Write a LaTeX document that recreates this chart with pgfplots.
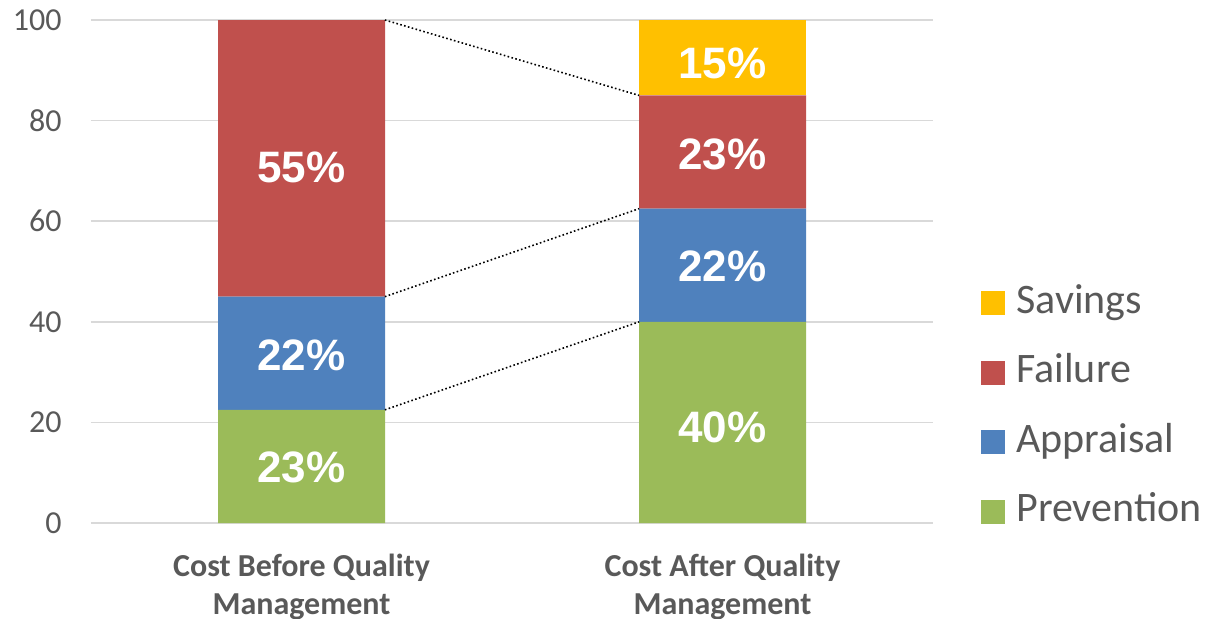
\documentclass[border=0pt]{standalone}
\usepackage{pgfplots}
\pgfplotsset{compat=1.18}
\usepackage{fontspec}
\setmainfont{Carlito}
\newfontfamily\arialfont{Liberation Sans}
\usetikzlibrary{calc}
\definecolor{cPrev}{HTML}{9BBB59}
\definecolor{cApp}{HTML}{4F81BD}
\definecolor{cFail}{HTML}{C0504D}
\definecolor{cSav}{HTML}{FFC000}
\definecolor{gridc}{HTML}{D9D9D9}
\definecolor{txt}{HTML}{595959}
\begin{document}
\begin{tikzpicture}
\pgfplotsset{common/.style={scale only axis, width=421pt, height=251.5pt,
  xmin=-0.5, xmax=1.5, ymin=0, ymax=100, clip=false}}
\begin{axis}[common, ybar stacked, bar width=83.5pt,
  ytick={0,20,...,100}, ymajorgrids,
  grid style={color=gridc, line width=0.75pt},
  xtick={0,1},
  xticklabels={{Cost Before Quality\\Management},{Cost After Quality\\Management}},
  xticklabel style={align=center, font=\bfseries\fontsize{16}{19}\selectfont, text=txt, inner sep=0pt, yshift=-15.5pt},
  yticklabel style={font=\fontsize{16}{19}\selectfont, text=txt, inner sep=0pt, xshift=-14.5pt},
  /pgf/number format/assume math mode=true,
  axis line style={draw=none}, tick style={draw=none},
  reverse legend,
  legend style={draw=none, fill=none, at={(1.057,0.2297)}, anchor=west, inner sep=0pt,
    font=\fontsize{21}{25}\selectfont, text=txt, cells={anchor=west}, row sep=14.8pt,
    nodes={inner sep=0pt, text height=15pt, text depth=5pt}},
  legend image code/.code={\fill[#1] (0pt,-6pt) rectangle (12pt,6pt); \path (17.5pt,0pt);},
]
\addplot[fill=cPrev, draw=none] coordinates {(0,22.5) (1,40)};
\addlegendentry{Prevention}
\addplot[fill=cApp, draw=none] coordinates {(0,22.5) (1,22.5)};
\addlegendentry{Appraisal}
\addplot[fill=cFail, draw=none] coordinates {(0,55) (1,22.5)};
\addlegendentry{Failure}
\addplot[fill=cSav, draw=none] coordinates {(0,0) (1,15)};
\addlegendentry{Savings}
\coordinate (bl) at (rel axis cs:0,0);
\coordinate (tr) at (rel axis cs:1,1);
\end{axis}
\begin{axis}[common, hide axis]
\addplot[draw=black, line width=0.8pt, dash pattern=on 0.8pt off 1.2pt] coordinates {(0.198,100) (0.802,85)};
\addplot[draw=black, line width=0.8pt, dash pattern=on 0.8pt off 1.2pt] coordinates {(0.198,45) (0.802,62.5)};
\addplot[draw=black, line width=0.8pt, dash pattern=on 0.8pt off 1.2pt] coordinates {(0.198,22.5) (0.802,40)};
\addplot[only marks, mark=*, mark size=0pt, mark options={draw=none, fill=none},
  nodes near coords, point meta=explicit symbolic,
  every node near coord/.append style={anchor=center, text=white, inner sep=0pt,
    font=\arialfont\bfseries\fontsize{22}{26}\selectfont}]
  coordinates {(0,11.1)[23\%] (0,33.4)[22\%] (0,70.6)[55\%]
               (1,19.1)[40\%] (1,51.1)[22\%] (1,73.2)[23\%] (1,91.4)[15\%]};
\end{axis}
\pgfresetboundingbox
\path[use as bounding box] ($(bl)+(-45.5pt,-47.5pt)$) rectangle ($(tr)+(142.5pt,10pt)$);
\end{tikzpicture}
\end{document}
